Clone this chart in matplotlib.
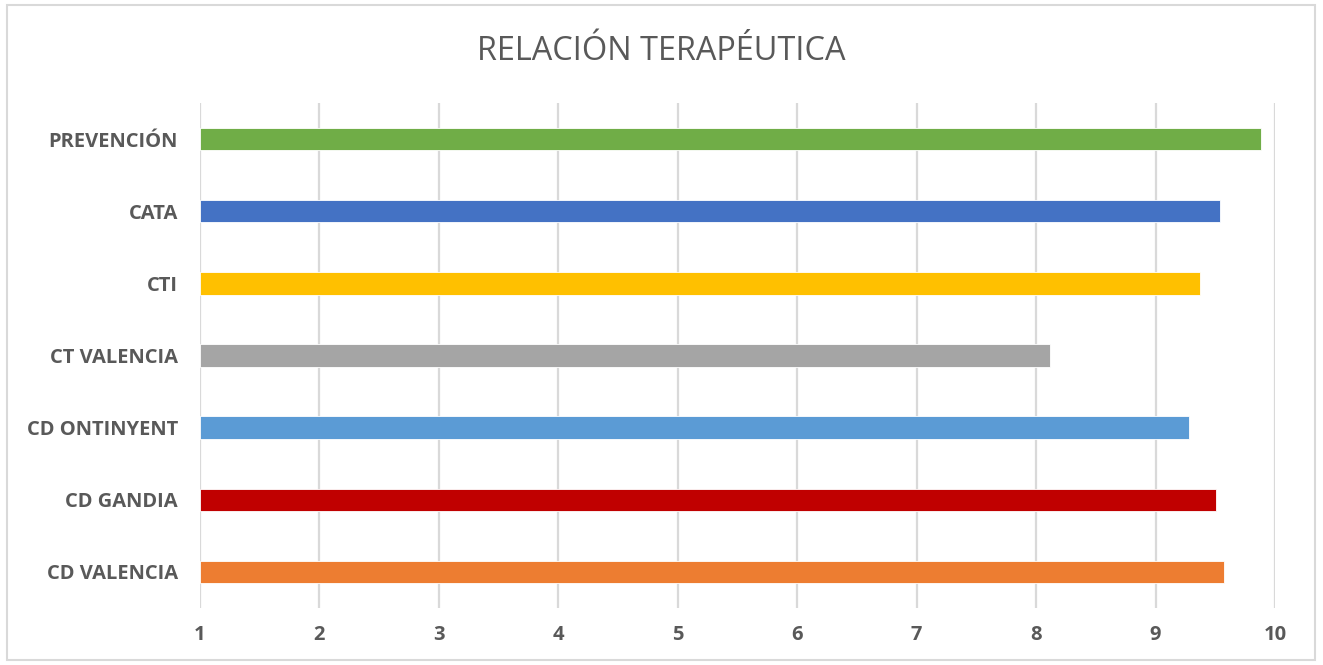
import matplotlib.pyplot as plt
from matplotlib.patches import Rectangle

# data
categorias = ["CD VALENCIA", "CD GANDIA", "CD ONTINYENT", "CT VALENCIA", "CTI", "CATA", "PREVENCIÓN"]
valores = [9.57, 9.51, 9.28, 8.12, 9.37, 9.54, 9.88]
colores = ["#ED7D31", "#C00000", "#5B9BD5", "#A5A5A5", "#FFC000", "#4472C4", "#70AD47"]
ticks_x = [1, 2, 3, 4, 5, 6, 7, 8, 9, 10]

plt.rcParams['font.family'] = ['Open Sans', 'DejaVu Sans']

fig = plt.figure(figsize=(13.23, 6.65), dpi=100)
ax = fig.add_axes([0.1512, 0.0857, 0.8125, 0.7593])

x0 = ticks_x[0]
ax.barh(range(len(categorias)), [v - x0 for v in valores], left=x0, height=0.31,
        color=colores, edgecolor="white", linewidth=0.6, zorder=3)

ax.set_xlim(ticks_x[0], ticks_x[-1])
ax.set_ylim(-0.5, len(categorias) - 0.5)
ax.set_xticks(ticks_x)
ax.set_yticks(range(len(categorias)))
ax.set_yticklabels(categorias)
ax.grid(axis="x", color="#D9D9D9", linewidth=1.6, zorder=0)
for s in ax.spines.values():
    s.set_visible(False)
ax.tick_params(length=0, labelsize=14.5, labelcolor="#595959")
ax.tick_params(axis="x", pad=12)
ax.tick_params(axis="y", pad=16)
for lbl in ax.get_xticklabels() + ax.get_yticklabels():
    lbl.set_fontweight("bold")

fig.text(0.5, 0.922, "RELACIÓN TERAPÉUTICA", ha="center", va="center",
         fontsize=23.4, color="#595959")

# outer chart border
fig.patches.append(Rectangle((0.0053, 0.0075), 0.989, 0.985, transform=fig.transFigure,
                             fill=False, edgecolor="#D9D9D9", linewidth=1.5))

plt.savefig("out.png", dpi=100)
plt.close()
